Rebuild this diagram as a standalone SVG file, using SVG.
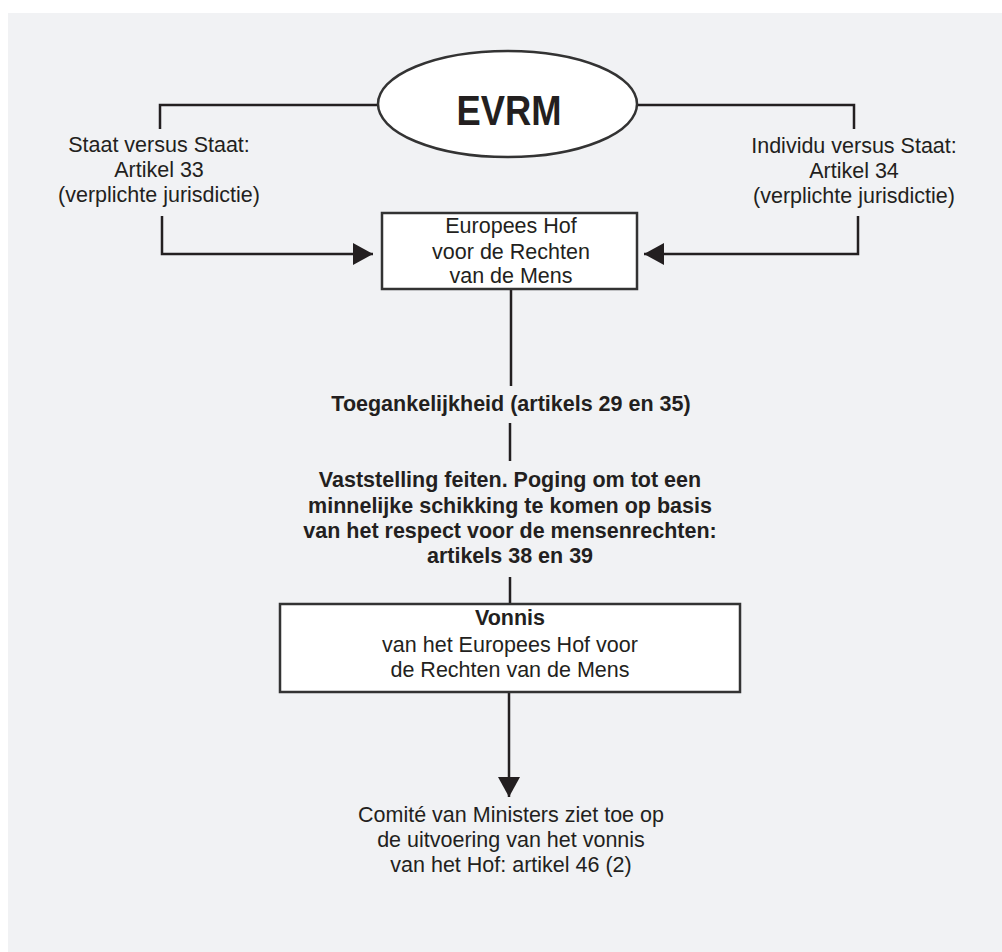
<svg xmlns="http://www.w3.org/2000/svg" width="1002" height="952" viewBox="0 0 1002 952">
<style>
.t{font-family:"Liberation Sans",Arial,sans-serif;font-size:21.5px;fill:#231f20;text-anchor:middle}
.b{font-weight:bold}
.ln{stroke:#231f20;stroke-width:2.5;fill:none}
.box{fill:#ffffff;stroke:#333333;stroke-width:2.5}
</style>
<defs>
<marker id="ah" viewBox="0 0 20 22" refX="20" refY="11" markerWidth="20" markerHeight="22" markerUnits="userSpaceOnUse" orient="auto">
<path d="M0,0 L20,11 L0,22 Z" fill="#231f20"/>
</marker>
</defs>
<rect x="0" y="0" width="1002" height="952" fill="#ffffff"/>
<rect x="8" y="13" width="994" height="939" fill="#f1f2f4"/>
<g id="connectors">
<path class="ln" d="M160,129 V105 H378"/>
<path class="ln" d="M637,105 H854 V129"/>
<path class="ln" d="M162,216 V254 H373" marker-end="url(#ah)"/>
<path class="ln" d="M858,216 V254 H644" marker-end="url(#ah)"/>
<path class="ln" d="M511,289 V386"/>
<path class="ln" d="M510,423 V461"/>
<path class="ln" d="M510,577 V604"/>
<path class="ln" d="M509,685 V797" marker-end="url(#ah)"/>
</g>
<g id="evrm">
<ellipse cx="507.5" cy="104" rx="129.5" ry="53" fill="#ffffff" stroke="#333333" stroke-width="2.5"/>
<text class="t b" x="509" y="125" style="font-size:42px" textLength="105" lengthAdjust="spacingAndGlyphs">EVRM</text>
</g>
<g id="staat">
<text class="t" x="159" y="152">Staat versus Staat:</text>
<text class="t" x="159" y="177">Artikel 33</text>
<text class="t" x="159" y="202">(verplichte jurisdictie)</text>
</g>
<g id="individu">
<text class="t" x="854" y="153">Individu versus Staat:</text>
<text class="t" x="854" y="178">Artikel 34</text>
<text class="t" x="854" y="203">(verplichte jurisdictie)</text>
</g>
<g id="hof">
<rect class="box" x="382" y="213" width="255" height="76"/>
<text class="t" x="511" y="233">Europees Hof</text>
<text class="t" x="511" y="259">voor de Rechten</text>
<text class="t" x="511" y="283">van de Mens</text>
</g>
<g id="toegankelijkheid">
<text class="t b" x="511" y="411">Toegankelijkheid (artikels 29 en 35)</text>
</g>
<g id="vaststelling">
<text class="t b" x="510" y="487">Vaststelling feiten. Poging om tot een</text>
<text class="t b" x="510" y="513">minnelijke schikking te komen op basis</text>
<text class="t b" x="510" y="538">van het respect voor de mensenrechten:</text>
<text class="t b" x="510" y="563">artikels 38 en 39</text>
</g>
<g id="vonnis">
<rect class="box" x="280" y="604" width="460" height="88"/>
<text class="t b" x="510" y="625">Vonnis</text>
<text class="t" x="510" y="652">van het Europees Hof voor</text>
<text class="t" x="510" y="677">de Rechten van de Mens</text>
</g>
<g id="comite">
<text class="t" x="511" y="822">Comité van Ministers ziet toe op</text>
<text class="t" x="511" y="847">de uitvoering van het vonnis</text>
<text class="t" x="511" y="872">van het Hof: artikel 46 (2)</text>
</g>
</svg>
